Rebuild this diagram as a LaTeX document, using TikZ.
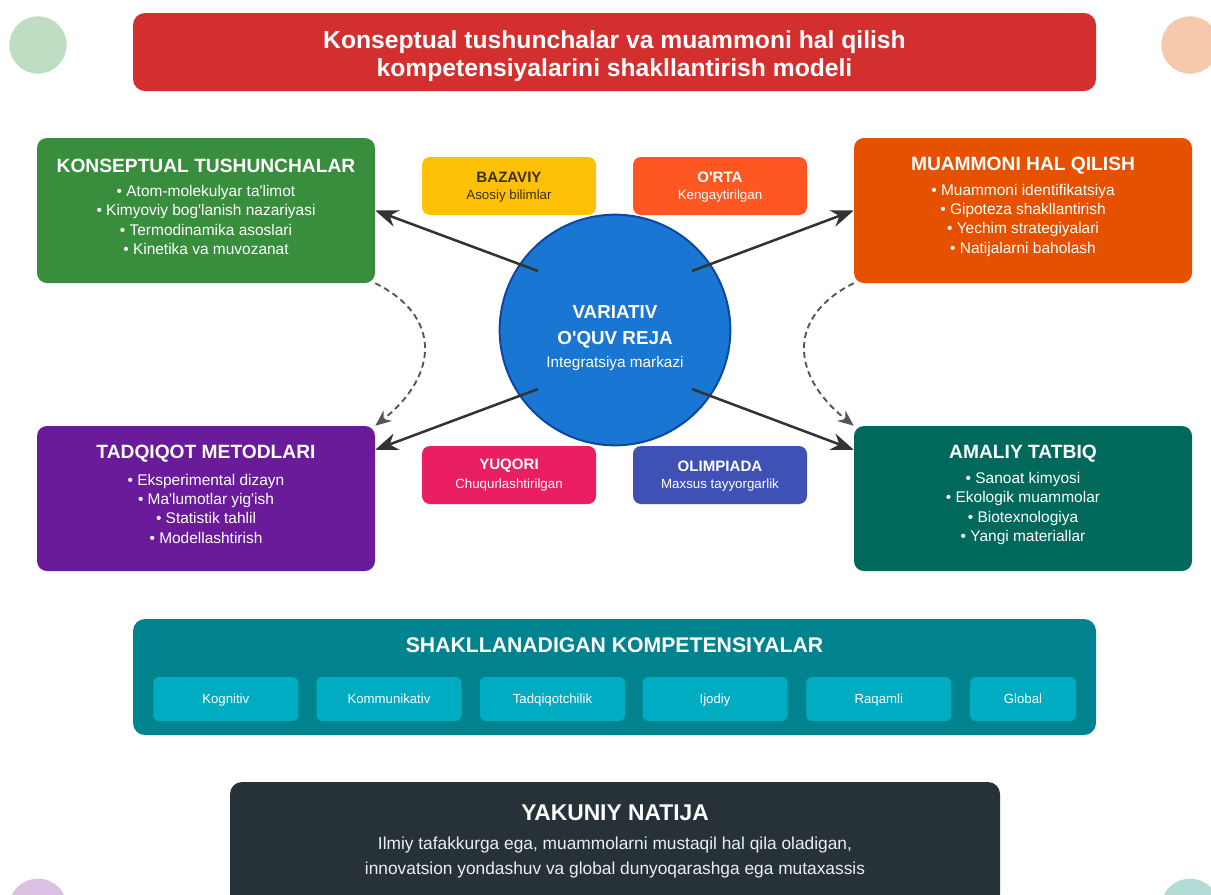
\documentclass[tikz,border=0pt]{standalone}
\usepackage{fontspec}
\setmainfont{Liberation Sans}
\usetikzlibrary{arrows.meta,calc}

\definecolor{cRed}{HTML}{D32F2F}
\definecolor{cGreen}{HTML}{388E3C}
\definecolor{cOrange}{HTML}{E65100}
\definecolor{cPurple}{HTML}{6A1B9A}
\definecolor{cTeal}{HTML}{00695C}
\definecolor{cAmber}{HTML}{FFC107}
\definecolor{cAmberText}{HTML}{3A3100}
\definecolor{cDeepOrange}{HTML}{FF5722}
\definecolor{cPink}{HTML}{E91E63}
\definecolor{cIndigo}{HTML}{3F51B5}
\definecolor{cBlue}{HTML}{1976D2}
\definecolor{cBlueDark}{HTML}{0D47A1}
\definecolor{cCyanDark}{HTML}{00838F}
\definecolor{cCyan}{HTML}{00ACC1}
\definecolor{cSlate}{HTML}{263238}
\definecolor{cSlateText}{HTML}{ECEFF1}
\definecolor{cArrow}{HTML}{333333}
\definecolor{cDash}{HTML}{555555}
\definecolor{dotTL}{HTML}{BFDDC2}
\definecolor{dotTR}{HTML}{F6C8AC}
\definecolor{dotBL}{HTML}{DCC0E4}
\definecolor{dotBR}{HTML}{B4DCD6}

\newcommand\aps{\textquotesingle}

\tikzset{
  panel/.style={draw=none, inner sep=0pt, rounded corners=7.5pt,
    minimum width=253.5pt, minimum height=108.75pt},
  levelbox/.style={draw=none, inner sep=0pt, rounded corners=6pt,
    minimum width=130.5pt, minimum height=43.5pt},
  chipbox/.style={draw=none, fill=cCyan, inner sep=0pt, rounded corners=4.5pt,
    minimum width=108.75pt, minimum height=33pt, text=white,
    text height=9pt, text depth=2.2pt,
    font=\fontsize{9.9pt}{11pt}\selectfont},
  txt/.style={inner sep=0pt, align=center},
  paneltitle/.style={txt, text=white, font=\fontsize{14.4pt}{16pt}\selectfont\bfseries},
  panellist/.style={txt, text=white, font=\fontsize{11.6pt}{14.5pt}\selectfont},
  leveltitle/.style={txt, font=\fontsize{11.3pt}{13pt}\selectfont\bfseries},
  levelsub/.style={txt, font=\fontsize{10pt}{12pt}\selectfont},
  mainarrow/.style={draw=cArrow, line width=1.9pt,
    -{Stealth[length=17pt,width=13pt]}},
  looparrow/.style={draw=cDash, line width=1.4pt, dash pattern=on 4.5pt off 3pt,
    -{Stealth[length=12pt,width=10pt]}}
}

\begin{document}
\begin{tikzpicture}[x=0.75pt,y=-0.75pt]
  \useasboundingbox (0,0) rectangle (1211,894);
  \clip (0,0) rectangle (1211,894);
  \fill[white] (0,0) rectangle (1211,894);

  % decorative corner dots
  \fill[dotTL] (38,45) circle (21.5pt);
  \fill[dotTR] (1190,45) circle (21.5pt);
  \fill[dotBL] (38,908) circle (22pt);
  \fill[dotBR] (1190,908) circle (22pt);

  % heading
  \node[draw=none, fill=cRed, inner sep=0pt, rounded corners=9pt,
        minimum width=722.25pt, minimum height=58.5pt] (title) at (614.5,52) {};
  \node[txt, text=white, font=\fontsize{18.5pt}{21pt}\selectfont\bfseries]
    (titletext) at (614.5,56)
    {Konseptual tushunchalar va muammoni hal qilish\\kompetensiyalarini shakllantirish modeli};

  % four corner panels
  \node[panel, fill=cGreen]  (kt) at (206,210.5) {};
  \node[panel, fill=cOrange] (mh) at (1023,210.5) {};
  \node[panel, fill=cPurple] (tm) at (206,498.5) {};
  \node[panel, fill=cTeal]   (at) at (1023,498.5) {};

  \node[paneltitle] (kt-t) at (206,166) {KONSEPTUAL TUSHUNCHALAR};
  \node[panellist]  (kt-l) at (206,220)
    {• Atom-molekulyar ta\aps limot\\• Kimyoviy bog\aps lanish nazariyasi\\• Termodinamika asoslari\\• Kinetika va muvozanat};

  \node[paneltitle] (mh-t) at (1023,166) {MUAMMONI HAL QILISH};
  \node[panellist]  (mh-l) at (1023,220)
    {• Muammoni identifikatsiya\\• Gipoteza shakllantirish\\• Yechim strategiyalari\\• Natijalarni baholash};

  \node[paneltitle] (tm-t) at (206,454) {TADQIQOT METODLARI};
  \node[panellist]  (tm-l) at (206,508.5)
    {• Eksperimental dizayn\\• Ma\aps lumotlar yig\aps ish\\• Statistik tahlil\\• Modellashtirish};

  \node[paneltitle] (at-t) at (1023,454) {AMALIY TATBIQ};
  \node[panellist]  (at-l) at (1023,508.5)
    {• Sanoat kimyosi\\• Ekologik muammolar\\• Biotexnologiya\\• Yangi materiallar};

  % level boxes
  \node[levelbox, fill=cAmber]      (baz)  at (509,186) {};
  \node[levelbox, fill=cDeepOrange] (orta) at (720,186) {};
  \node[levelbox, fill=cPink]       (yuq)  at (509,475) {};
  \node[levelbox, fill=cIndigo]     (olim) at (720,475) {};

  \node[leveltitle, text=cAmberText] (baz-t) at (509,177) {BAZAVIY};
  \node[levelsub,   text=cAmberText] (baz-s) at (509,196) {Asosiy bilimlar};
  \node[leveltitle, text=white] (orta-t) at (720,177) {O\aps RTA};
  \node[levelsub,   text=white] (orta-s) at (720,196) {Kengaytirilgan};
  \node[leveltitle, text=white] (yuq-t) at (509,466) {YUQORI};
  \node[levelsub,   text=white] (yuq-s) at (509,485) {Chuqurlashtirilgan};
  \node[leveltitle, text=white] (olim-t) at (720,466) {OLIMPIADA};
  \node[levelsub,   text=white] (olim-s) at (720,485) {Maxsus tayyorgarlik};

  % central hub
  \node[circle, draw=cBlueDark, line width=1.5pt, fill=cBlue, inner sep=0pt,
        minimum size=173pt] (ctr) at (615,330) {};
  \node[txt, text=white, font=\fontsize{14.1pt}{19.5pt}\selectfont\bfseries]
    (ctr-t) at (615,327) {VARIATIV\\O\aps QUV REJA};
  \node[txt, text=white, font=\fontsize{11.5pt}{13pt}\selectfont]
    (ctr-s) at (615,364) {Integratsiya markazi};

  % hub spokes
  \coordinate (s1) at ($(ctr)+(-77,-59)$);
  \coordinate (s2) at ($(ctr)+(77,-59)$);
  \coordinate (s3) at ($(ctr)+(-77,59)$);
  \coordinate (s4) at ($(ctr)+(77,59)$);
  \draw[mainarrow] (s1) -- (kt.east);
  \draw[mainarrow] (s2) -- (mh.west);
  \draw[mainarrow] (s3) -- ($(tm.north east)+(0,24)$);
  \draw[mainarrow] (s4) -- ($(at.north west)+(0,24)$);

  % dashed links between panels
  \draw[looparrow] (kt.south east)
    .. controls ($(kt.south east)+(65,32)$) and ($(tm.north east)+(65,-52)$)
    .. (tm.north east);
  \draw[looparrow] (mh.south west)
    .. controls ($(mh.south west)+(-65,32)$) and ($(at.north west)+(-65,-52)$)
    .. (at.north west);

  % competencies band
  \node[draw=none, fill=cCyanDark, inner sep=0pt, rounded corners=9pt,
        minimum width=722.25pt, minimum height=87pt] (komp) at (614.5,677) {};
  \node[txt, text=white, font=\fontsize{15.9pt}{18pt}\selectfont\bfseries]
    (komp-t) at (614.5,645) {SHAKLLANADIGAN KOMPETENSIYALAR};
  \node[chipbox] (c1) at (225.75,699) {Kognitiv};
  \node[chipbox] (c2) at (389,699) {Kommunikativ};
  \node[chipbox] (c3) at (552.5,699) {Tadqiqotchilik};
  \node[chipbox] (c4) at (715,699) {Ijodiy};
  \node[chipbox] (c5) at (878.75,699) {Raqamli};
  \node[chipbox, minimum width=79.5pt] (c6) at (1023,699) {Global};

  % final outcome
  \node[draw=none, fill=cSlate, inner sep=0pt, rounded corners=9pt,
        minimum width=577.5pt, minimum height=93pt] (fin) at (615,844) {};
  \node[txt, text=white, font=\fontsize{17.1pt}{18pt}\selectfont\bfseries]
    (fin-t) at (615,813) {YAKUNIY NATIJA};
  \node[txt, text=cSlateText, font=\fontsize{13pt}{18.75pt}\selectfont]
    (fin-l) at (615,858)
    {Ilmiy tafakkurga ega, muammolarni mustaqil hal qila oladigan,\\innovatsion yondashuv va global dunyoqarashga ega mutaxassis};
\end{tikzpicture}
\end{document}
